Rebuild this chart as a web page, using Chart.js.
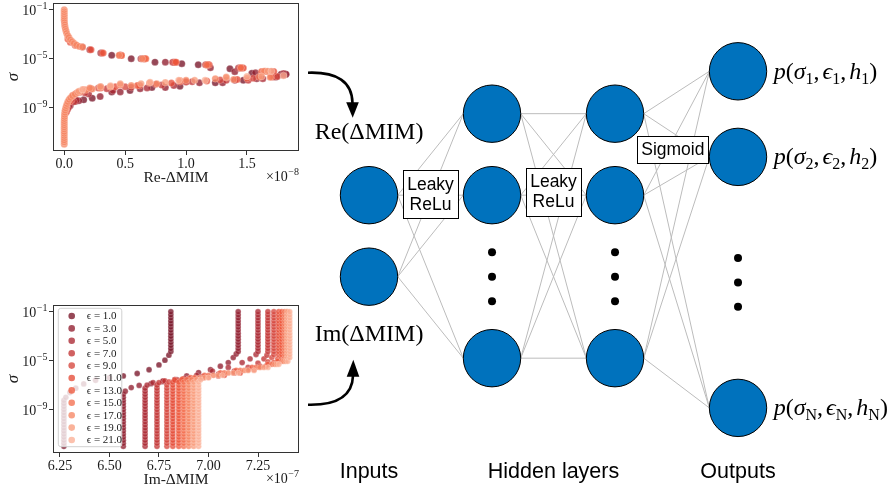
<!DOCTYPE html>
<html>
<head>
<meta charset="utf-8">
<script src="https://cdn.jsdelivr.net/npm/chart.js@4.4.1/dist/chart.umd.min.js"></script>
<style>
  html, body { margin: 0; padding: 0; background: #ffffff; }
  #wrap { position: relative; width: 893px; height: 488px; overflow: hidden; background: #ffffff; }
  canvas { position: absolute; }
  #net { left: 0; top: 0; }
  #re { left: 0; top: 0; }
  #im { left: 0; top: 290px; }
</style>
</head>
<body>
<div id="wrap">
  <canvas id="net" width="893" height="488"></canvas>
  <canvas id="re" width="310" height="190"></canvas>
  <canvas id="im" width="310" height="200"></canvas>
</div>
<script>
// ---------------------------------------------------------------
// Data
// ---------------------------------------------------------------
const EPSILONS = [1, 3, 5, 7, 9, 11, 13, 15, 17, 19, 21];

// sigma sampling used for the flat parts of the Im curves
const SIGMA_GRID = [1e-12, 1.78e-12, 3.16e-12, 5.62e-12, 1e-11, 1.78e-11, 3.16e-11, 5.62e-11,
  1e-10, 1.78e-10, 3.16e-10, 5.62e-10, 1e-9, 1.78e-9, 3.16e-9, 5.62e-9,
  1e-8, 1.78e-8, 3.16e-8, 5.62e-8, 1e-7, 1.78e-7, 3.16e-7, 5.62e-7,
  1e-6, 1.78e-6, 3.16e-6, 5.62e-6, 1e-5, 1.78e-5, 3.16e-5, 5.62e-5,
  1e-4, 1.78e-4, 3.16e-4, 5.62e-4, 1e-3, 1.78e-3, 3.16e-3, 5.62e-3,
  1e-2, 1.78e-2, 3.16e-2, 5.62e-2, 1e-1];

const SIGMA_TICKS = [1e-1, 1e-5, 1e-9];
const SIGMA_RANGE = [2.82e-13, 0.355];

// Im-ΔMIM (×1e-7): low-sigma plateau, high-sigma plateau and the bend between them
const IM_LOW_X = [6.27, 6.57, 6.68, 6.74, 6.79, 6.82, 6.85, 6.875, 6.90, 6.925, 6.95];
const IM_LOW_TOP = [5.62e-9, 1.78e-8, 5.62e-8, 1e-7, 1e-7, 1.78e-7, 1.78e-7, 1.78e-7, 1.78e-7, 1.78e-7, 1.78e-7];
const IM_HIGH_X = [6.81, 7.15, 7.25, 7.30, 7.33, 7.355, 7.37, 7.385, 7.395, 7.40, 7.41];
const IM_HIGH_BOTTOM = [5.62e-5, 5.62e-5, 5.62e-5, 5.62e-5, 3.16e-5, 3.16e-5, 1.78e-5, 1.78e-5, 1.78e-5, 1.78e-5, 1.78e-5];
const IM_BEND = [
  [[6.28,1e-8],[6.30,2.5e-8],[6.33,5.6e-8],[6.37,1.26e-7],[6.43,2.5e-7],[6.50,4e-7],[6.57,5.6e-7],[6.64,8.9e-7],[6.70,1.8e-6],[6.75,4.5e-6],[6.78,1.1e-5],[6.80,2.8e-5]],
  [[6.58,3.2e-8],[6.61,6.3e-8],[6.65,9.5e-8],[6.71,1.3e-7],[6.77,1.9e-7],[6.84,2.8e-7],[6.89,5.6e-7],[6.95,1.05e-6],[7.01,1.8e-6],[7.06,3.5e-6],[7.10,7e-6],[7.125,1.8e-5],[7.14,3.5e-5]],
  [[6.69,1e-7],[6.72,1.6e-7],[6.77,2.2e-7],[6.83,2.8e-7],[6.88,3.5e-7],[6.94,6.3e-7],[7.02,1.4e-6],[7.10,2.8e-6],[7.17,7e-6],[7.21,1.4e-5],[7.24,3.2e-5]],
  [[6.75,1.6e-7],[6.78,2.2e-7],[6.83,2.8e-7],[6.90,3.5e-7],[6.97,5e-7],[7.05,7.9e-7],[7.13,1.4e-6],[7.20,2.8e-6],[7.25,6.3e-6],[7.28,1.4e-5],[7.295,2.8e-5]],
  [[6.80,1.8e-7],[6.84,2.5e-7],[6.90,3.2e-7],[6.97,4e-7],[7.05,5.6e-7],[7.13,1e-6],[7.20,1.8e-6],[7.26,3.5e-6],[7.30,7.9e-6],[7.32,1.8e-5]],
  [[6.83,2.5e-7],[6.87,3.2e-7],[6.93,3.5e-7],[7.00,4.5e-7],[7.08,6.3e-7],[7.16,1e-6],[7.23,1.8e-6],[7.29,3.5e-6],[7.33,7e-6],[7.35,1.4e-5]],
  [[6.865,2.8e-7],[6.91,4e-7],[6.98,6.3e-7],[7.06,1e-6],[7.14,1.6e-6],[7.22,2.8e-6],[7.30,5e-6],[7.35,8.9e-6]],
  [[6.89,2.8e-7],[6.93,4e-7],[7.00,6.3e-7],[7.08,1e-6],[7.16,1.6e-6],[7.24,2.8e-6],[7.32,5e-6],[7.37,8.9e-6]],
  [[6.915,2.8e-7],[6.955,4e-7],[7.025,6.3e-7],[7.10,1e-6],[7.18,1.6e-6],[7.26,2.8e-6],[7.335,5e-6],[7.38,8.9e-6]],
  [[6.94,2.8e-7],[6.98,4e-7],[7.05,6.3e-7],[7.125,1e-6],[7.20,1.6e-6],[7.28,2.8e-6],[7.345,5e-6],[7.39,8.9e-6]],
  [[6.96,2.8e-7],[7.00,4e-7],[7.07,6.3e-7],[7.15,1e-6],[7.23,1.6e-6],[7.30,2.8e-6],[7.355,5e-6],[7.40,8.9e-6]]
];
const IM_TICKS = [6.25, 6.50, 6.75, 7.00, 7.25];
const IM_RANGE = [6.215, 7.457];

// Re-ΔMIM (×1e-8) against sigma, per epsilon
const RE_POINTS = [
  [[0.39,1.9e-5],[0.55,1e-5],[0.745,5.2e-6],[0.965,3.9e-6],[1.10,3.2e-6],[1.36,1.5e-6],[1.54,6.3e-7],[1.78,5.4e-7],
   [0.03,1e-9],[0.09,3.2e-9],[0.16,4.3e-9],[0.23,5.8e-9],[0.39,1.9e-8],[0.54,2.5e-8],[0.72,4.3e-8],[0.95,5.5e-8],[1.24,1.07e-7],[1.47,1.7e-7],[1.74,3.2e-7]],
  [[0.30,2.9e-5],[0.46,1.9e-5],[0.83,5.2e-6],[1.20,1.8e-6],[1.40,8.7e-7],[1.57,7e-7],[1.82,5.4e-7],
   [0.05,1.5e-9],[0.12,3.6e-9],[0.295,7.9e-9],[0.46,1.9e-8],[0.623,3.5e-8],[0.83,4.3e-8],[1.11,1.07e-7],[1.30,1.07e-7],[1.58,2.3e-7],[1.82,5.4e-7]],
  [[0.21,5.4e-5],[0.63,1e-5],[0.90,5.2e-6],[1.17,3.2e-6],[1.43,1.7e-6],[1.68,8.9e-7],[1.80,6e-7],
   [0.04,1.2e-9],[0.10,4e-9],[0.20,1.3e-8],[0.40,2.5e-8],[0.68,4e-8],[0.90,6.3e-8],[1.00,1.26e-7],[1.40,1.7e-7],[1.63,2.3e-7],[1.80,4.5e-7]],
  [[0.15,8.9e-5],[0.46,1.9e-5],[0.65,1e-5],[0.89,5.2e-6],[1.16,3.2e-6],[1.44,1.7e-6],[1.70,8.9e-7],
   [0.03,8e-10],[0.08,3e-9],[0.17,1.6e-8],[0.35,3.5e-8],[0.55,4.5e-8],[0.80,7e-8],[1.05,1.3e-7],[1.33,1.7e-7],[1.51,1.7e-7],[1.72,3.2e-7]],
  [[0.09,1.26e-4],[0.31,2.9e-5],[0.465,1.9e-5],[0.655,1e-5],[0.905,5.2e-6],[1.18,3.2e-6],[1.46,1.7e-6],[1.66,8.9e-7],
   [0.02,5e-10],[0.06,4e-9],[0.13,1.8e-8],[0.28,4e-8],[0.50,5e-8],[0.75,8e-8],[1.0,1.3e-7],[1.28,1.8e-7],[1.55,2.5e-7],[1.75,3.5e-7]],
  [[0.05,2.2e-4],[0.22,5.4e-5],[0.47,1.9e-5],[0.665,1e-5],[0.92,5.2e-6],[1.19,3.2e-6],[1.47,1.7e-6],[1.72,9e-7],
   [0.015,4e-10],[0.045,3e-9],[0.10,1.5e-8],[0.22,3.5e-8],[0.42,5e-8],[0.62,6.3e-8],[0.88,1e-7],[1.17,1.5e-7],[1.42,2e-7],[1.70,3.2e-7]],
  [[0.03,4e-4],[0.32,2.9e-5],[0.455,1.9e-5],[0.66,1e-5],[0.915,5.2e-6],[1.18,3.2e-6],[1.45,1.7e-6],[1.62,9e-7],
   [0.01,6e-10],[0.07,9e-9],[0.30,4e-8],[0.38,5e-8],[0.60,6.5e-8],[0.95,1.3e-7],[1.5,2.5e-7]],
  [[0.1,1.2e-4],[0.47,1.8e-5],[0.67,1e-5],[1.17,3.1e-6],[1.45,1.8e-6],[1.65,9.5e-7],
   [0.02,1e-9],[0.07,1e-8],[0.16,3e-8],[0.30,5e-8],[0.46,7e-8],[0.70,1e-7],[0.95,1.6e-7],[1.33,2.8e-7],[1.60,3.2e-7]],
  [[0,1e-1],[0,7e-2],[0,5e-2],[0,3.5e-2],[0,2.5e-2],[0,1.8e-2],[0,1.3e-2],[0.002,9e-3],[0.004,6e-3],[0.006,4e-3],
   [0.01,2.7e-3],[0.015,1.8e-3],[0.02,1.2e-3],[0.028,8e-4],[0.038,5.5e-4],[0.05,3.5e-4],[0.065,2.5e-4],[0.08,1.8e-4],
   [0.1,1.3e-4],[0.125,1e-4],[0.15,9e-5],[0.45,1.9e-5],[0.64,1e-5],[1.64,9.5e-7],
   [0,1e-12],[0,1.5e-12],[0,2.2e-12],[0,3.3e-12],[0,5e-12],[0,7.5e-12],[0,1.1e-11],[0,1.7e-11],[0,2.5e-11],[0,3.7e-11],
   [0,5.5e-11],[0,8e-11],[0.001,1.2e-10],[0.002,1.8e-10],[0.003,2.7e-10],[0.005,4e-10],[0.008,6e-10],[0.012,9e-10],
   [0.017,1.35e-9],[0.023,2e-9],[0.03,3e-9],[0.04,4.5e-9],[0.052,6.5e-9],[0.068,9e-9],[0.088,1.25e-8],[0.11,1.7e-8],
   [0.14,2.2e-8],[0.18,2.8e-8],[0.23,3.3e-8],
   [0.21,4e-8],[0.377,5e-8],[0.55,6.3e-8],[0.76,9e-8],[1.0,1.7e-7],[1.24,2.3e-7],[1.39,2e-7],[1.69,3e-7]],
  [[1.67,9.5e-7],
   [0.12,2.2e-8],[0.295,5e-8],[0.46,9e-8],[0.63,9e-8],[0.83,1.1e-7],[1.07,1.7e-7],[1.33,3.2e-7],[1.62,3.5e-7]],
  [[1.70,9.5e-7],
   [0.15,3e-8],[0.38,6e-8],[0.705,1.2e-7],[0.94,1.7e-7],[1.156,1.7e-7],[1.5,3.5e-7],[1.8,4e-7]]
];
const RE_TICKS = [0.0, 0.5, 1.0, 1.5];
const RE_RANGE = [-0.092, 1.927];

// Network diagram: vertical slot of every node, per layer
const INPUT_SLOTS = [1, 2];
const HIDDEN_SLOTS = [0, 1, 3];
const OUTPUT_SLOTS = [-0.52, 0.53, 3.61];
const HIDDEN_GAP_SLOTS = [1.7, 2.0, 2.3];
const OUTPUT_GAP_SLOTS = [1.77, 2.07, 2.37];
const LAYER_SLOTS = [INPUT_SLOTS, HIDDEN_SLOTS, HIDDEN_SLOTS, OUTPUT_SLOTS];
const LAYER_TITLES = [['Inputs', 0], ['Hidden layers', 1.5], ['Outputs', 3]];
const INPUT_LABELS = ['Re(ΔMIM)', 'Im(ΔMIM)'];
const OUTPUT_INDEX = ['1', '2', 'N'];
const ACTIVATIONS = [
  { lines: ['Leaky', 'ReLu'], layer: 0.5, slot: 0.99 },
  { lines: ['Leaky', 'ReLu'], layer: 1.5, slot: 0.96 },
  { lines: ['Sigmoid'], layer: 2.47, slot: 0.445 }
];

// ---------------------------------------------------------------
// Styles
// ---------------------------------------------------------------
const SERIF = "'Liberation Serif', 'DejaVu Serif', serif";
const SANS = "'Liberation Sans', Arial, sans-serif";
const AXIS_COLOR = '#333333';
const TEXT_COLOR = '#1a1a1a';
const SERIES_RGB = [
  [120, 20, 40], [145, 30, 46], [170, 40, 50], [195, 52, 52], [214, 70, 62], [230, 75, 55],
  [238, 88, 60], [244, 112, 80], [246, 134, 100], [249, 156, 124], [251, 176, 150]
];
const POINT_ALPHA = 0.78;
const NODE_BLUE = '#0072BD';
const NODE_R = 28.7;
const EDGE_COLOR = '#bcbcbc';

const rgba = (c, a) => `rgba(${c[0]},${c[1]},${c[2]},${a})`;

// ---------------------------------------------------------------
// Scatter panels
// ---------------------------------------------------------------
function drawPow(ctx, xRight, yBase, exp, big, small, prefix) {
  const sup = '\u2212' + Math.abs(exp);
  ctx.font = `${small}px ${SERIF}`;
  const ws = ctx.measureText(sup).width;
  ctx.font = `${big}px ${SERIF}`;
  const base = (prefix || '') + '10';
  const wb = ctx.measureText(base).width;
  ctx.textAlign = 'left';
  ctx.textBaseline = 'alphabetic';
  ctx.fillText(base, xRight - ws - wb - 0.5, yBase);
  ctx.font = `${small}px ${SERIF}`;
  ctx.fillText(sup, xRight - ws, yBase - 6);
}

const axesDecor = {
  id: 'axesDecor',
  afterDatasetsDraw(chart, args, opts) {
    const { ctx, chartArea: a, scales } = chart;
    ctx.save();
    ctx.fillStyle = TEXT_COLOR;

    if (opts.legend) {
      const bx = a.left + 5.3, by = a.top + 3.3, bw = 63.5, bh = 138.4, r = 2.5;
      ctx.beginPath();
      ctx.moveTo(bx + r, by);
      ctx.arcTo(bx + bw, by, bx + bw, by + bh, r);
      ctx.arcTo(bx + bw, by + bh, bx, by + bh, r);
      ctx.arcTo(bx, by + bh, bx, by, r);
      ctx.arcTo(bx, by, bx + bw, by, r);
      ctx.closePath();
      ctx.fillStyle = 'rgba(255,255,255,0.8)';
      ctx.fill();
      ctx.strokeStyle = '#d0d0d0';
      ctx.lineWidth = 1;
      ctx.stroke();
      chart.data.datasets.forEach((ds, i) => {
        const cy = by + 7.7 + i * 12.4;
        ctx.beginPath();
        ctx.arc(bx + 13.4, cy, 3.3, 0, Math.PI * 2);
        ctx.fillStyle = ds.backgroundColor;
        ctx.fill();
        ctx.fillStyle = TEXT_COLOR;
        ctx.font = `11px ${SERIF}`;
        ctx.textAlign = 'left';
        ctx.textBaseline = 'middle';
        ctx.fillText(ds.label, bx + 28.4, cy + 0.5);
      });
    }

    // full frame round the plotting area
    ctx.strokeStyle = AXIS_COLOR;
    ctx.lineWidth = 1;
    ctx.strokeRect(Math.floor(a.left) + 0.5, Math.floor(a.top) + 0.5,
                   Math.round(a.right - a.left) - 1, Math.round(a.bottom - a.top) - 1);

    // log tick labels with raised exponents
    ctx.fillStyle = TEXT_COLOR;
    SIGMA_TICKS.forEach(v => {
      const y = scales.y.getPixelForValue(v);
      drawPow(ctx, a.left - 5.5, y + 5.5, Math.round(Math.log10(v)), 14, 10);
    });

    // scale factor of the x axis
    drawPow(ctx, a.right, a.bottom + 30, opts.offsetExp, 14, 10, '\u00d7');
    ctx.restore();
  }
};

function scatterChart(id, datasets, o) {
  return new Chart(document.getElementById(id), {
    type: 'scatter',
    data: { datasets },
    options: {
      responsive: false,
      animation: false,
      devicePixelRatio: 1,
      events: [],
      layout: { autoPadding: false, padding: { left: 0, top: o.top, right: 11, bottom: 0 } },
      scales: {
        x: {
          type: 'linear', min: o.range[0], max: o.range[1],
          afterBuildTicks: s => { s.ticks = o.ticks.map(v => ({ value: v })); },
          afterFit: s => { s.height = o.xHeight; },
          ticks: {
            callback: v => v.toFixed(o.decimals),
            font: { family: SERIF, size: 14 }, color: TEXT_COLOR,
            padding: 1, maxRotation: 0, autoSkip: false
          },
          grid: { drawOnChartArea: false, drawTicks: true, tickLength: 4, color: AXIS_COLOR, tickColor: AXIS_COLOR },
          border: { display: false },
          title: { display: true, text: o.xTitle, font: { family: SERIF, size: 15.5 }, color: TEXT_COLOR,
                   padding: { top: 0, bottom: o.titlePad } }
        },
        y: {
          type: 'logarithmic', min: SIGMA_RANGE[0], max: SIGMA_RANGE[1],
          afterBuildTicks: s => { s.ticks = SIGMA_TICKS.map(v => ({ value: v })); },
          afterFit: s => { s.width = 53; },
          ticks: { display: false },
          grid: { drawOnChartArea: false, drawTicks: true, tickLength: 4, color: AXIS_COLOR, tickColor: AXIS_COLOR },
          border: { display: false },
          title: { display: true, text: 'σ', font: { family: SERIF, size: 17, style: 'italic' }, color: TEXT_COLOR,
                   padding: { top: 3, bottom: 0 } }
        }
      },
      plugins: {
        legend: { display: false },
        tooltip: { enabled: false },
        axesDecor: { legend: o.legend, offsetExp: o.offsetExp }
      }
    },
    plugins: [axesDecor]
  });
}

function pointStyle(i, r) {
  return {
    backgroundColor: rgba(SERIES_RGB[i], POINT_ALPHA),
    borderColor: 'rgba(255,255,255,0.45)',
    borderWidth: 0.5,
    pointRadius: r,
    order: EPSILONS.length - i
  };
}

const reDatasets = EPSILONS.map((eps, i) => Object.assign({
  label: `ϵ = ${eps.toFixed(1)}`,
  data: RE_POINTS[i].map(([x, s]) => ({ x, y: s }))
}, pointStyle(i, 3.5)));

const imDatasets = EPSILONS.map((eps, i) => {
  const pts = [];
  SIGMA_GRID.forEach(s => { if (s <= IM_LOW_TOP[i] * 1.001) pts.push({ x: IM_LOW_X[i], y: s }); });
  IM_BEND[i].forEach(([x, s]) => pts.push({ x, y: s }));
  SIGMA_GRID.forEach(s => { if (s >= IM_HIGH_BOTTOM[i] * 0.999) pts.push({ x: IM_HIGH_X[i], y: s }); });
  return Object.assign({ label: `ϵ = ${eps.toFixed(1)}`, data: pts }, pointStyle(i, 2.9));
});

scatterChart('re', reDatasets, {
  top: 3, xHeight: 39, range: RE_RANGE, ticks: RE_TICKS, decimals: 1,
  xTitle: 'Re-ΔMIM', titlePad: 3, legend: false, offsetExp: -8
});
scatterChart('im', imDatasets, {
  top: 15, xHeight: 37, range: IM_RANGE, ticks: IM_TICKS, decimals: 2,
  xTitle: 'Im-ΔMIM', titlePad: 1, legend: true, offsetExp: -7
});

// ---------------------------------------------------------------
// Network diagram
// ---------------------------------------------------------------
function drawOutputLabel(ctx, x, y, idx) {
  const big = 24, small = 16;
  const parts = [
    ['p', 'i'], ['(', 'r'], ['σ', 'i'], [idx, 's'], [',', 'r'], [3, 'g'],
    ['ϵ', 'i'], [idx, 's'], [',', 'r'], [3, 'g'], ['h', 'i'], [idx, 's'], [')', 'r']
  ];
  ctx.textAlign = 'left';
  ctx.textBaseline = 'alphabetic';
  let cx = x;
  parts.forEach(([t, k]) => {
    if (k === 'g') { cx += t; return; }
    if (k === 's') {
      ctx.font = `${small}px ${SERIF}`;
      ctx.fillText(t, cx, y + 5);
    } else {
      ctx.font = `${k === 'i' ? 'italic ' : ''}${big}px ${SERIF}`;
      ctx.fillText(t, cx, y);
    }
    cx += ctx.measureText(t).width;
  });
}

function drawArrow(ctx, p0, c, p1, tip) {
  ctx.beginPath();
  ctx.moveTo(p0[0], p0[1]);
  ctx.quadraticCurveTo(c[0], c[1], p1[0], p1[1]);
  ctx.lineWidth = 2.6;
  ctx.strokeStyle = '#000';
  ctx.stroke();
  const dir = Math.sign(tip[1] - p1[1]);
  ctx.beginPath();
  ctx.moveTo(tip[0], tip[1]);
  ctx.lineTo(p1[0] - 6.3, p1[1] - dir * 1);
  ctx.lineTo(p1[0] + 6.3, p1[1] - dir * 1);
  ctx.closePath();
  ctx.fillStyle = '#000';
  ctx.fill();
}

const networkDecor = {
  id: 'networkDecor',
  beforeDatasetsDraw(chart) {
    const { ctx, scales: { x, y } } = chart;
    ctx.save();
    ctx.strokeStyle = EDGE_COLOR;
    ctx.lineWidth = 1;
    for (let l = 0; l < LAYER_SLOTS.length - 1; l++) {
      const x0 = x.getPixelForValue(l) + NODE_R;
      const x1 = x.getPixelForValue(l + 1) - NODE_R;
      LAYER_SLOTS[l].forEach(a => LAYER_SLOTS[l + 1].forEach(b => {
        ctx.beginPath();
        ctx.moveTo(x0, y.getPixelForValue(a));
        ctx.lineTo(x1, y.getPixelForValue(b));
        ctx.stroke();
      }));
    }
    ctx.restore();
  },
  afterDatasetsDraw(chart) {
    const { ctx, chartArea: area, scales: { x, y } } = chart;
    ctx.save();

    // activation boxes
    ACTIVATIONS.forEach(act => {
      const cx = x.getPixelForValue(act.layer), cy = y.getPixelForValue(act.slot);
      ctx.font = `17.5px ${SANS}`;
      const w = Math.max(...act.lines.map(t => ctx.measureText(t).width)) + 8;
      const lh = 20;
      const h = act.lines.length * lh + (act.lines.length > 1 ? 8 : 7);
      ctx.fillStyle = '#fff';
      ctx.fillRect(cx - w / 2, cy - h / 2, w, h);
      ctx.strokeStyle = '#000';
      ctx.lineWidth = 1;
      ctx.strokeRect(Math.round(cx - w / 2) + 0.5, Math.round(cy - h / 2) + 0.5, Math.round(w), Math.round(h));
      ctx.fillStyle = '#000';
      ctx.textAlign = 'center';
      ctx.textBaseline = 'middle';
      act.lines.forEach((t, k) => {
        ctx.fillText(t, cx, cy + (k - (act.lines.length - 1) / 2) * lh + 0.5);
      });
    });

    // input labels and arrows
    const ix = x.getPixelForValue(0);
    const iy0 = y.getPixelForValue(INPUT_SLOTS[0]);
    const iy1 = y.getPixelForValue(INPUT_SLOTS[1]);
    ctx.fillStyle = '#000';
    ctx.font = `24px ${SERIF}`;
    ctx.textAlign = 'center';
    ctx.textBaseline = 'middle';
    ctx.fillText(INPUT_LABELS[0], ix, iy0 - 62);
    ctx.fillText(INPUT_LABELS[1], ix, iy1 + 58);

    drawArrow(ctx, [ix - 61, iy0 - 122.5], [ix - 17, iy0 - 124], [ix - 16.5, iy0 - 92], [ix - 16.3, iy0 - 77.5]);
    drawArrow(ctx, [ix - 61, iy1 + 128], [ix - 17, iy1 + 129], [ix - 16, iy1 + 99], [ix - 15.7, iy1 + 83]);

    // output labels
    const ox = x.getPixelForValue(3);
    ctx.fillStyle = '#000';
    OUTPUT_SLOTS.forEach((s, k) => {
      drawOutputLabel(ctx, ox + NODE_R + 7, y.getPixelForValue(s) + 7.5, OUTPUT_INDEX[k]);
    });

    // layer titles
    ctx.font = `21.5px ${SANS}`;
    ctx.textAlign = 'center';
    ctx.textBaseline = 'middle';
    LAYER_TITLES.forEach(([t, l]) => ctx.fillText(t, x.getPixelForValue(l), area.bottom - 16));
    ctx.restore();
  }
};

const nodePoints = LAYER_SLOTS.flatMap((slots, l) => slots.map(s => ({ x: l, y: s })));
const gapPoints = [
  ...HIDDEN_GAP_SLOTS.map(s => ({ x: 1, y: s })),
  ...HIDDEN_GAP_SLOTS.map(s => ({ x: 2, y: s })),
  ...OUTPUT_GAP_SLOTS.map(s => ({ x: 3, y: s }))
];

new Chart(document.getElementById('net'), {
  type: 'scatter',
  data: {
    datasets: [
      { label: 'nodes', data: nodePoints, pointRadius: NODE_R, backgroundColor: NODE_BLUE,
        borderColor: '#000', borderWidth: 1 },
      { label: 'gap', data: gapPoints, pointRadius: 4, backgroundColor: '#000', borderWidth: 0 }
    ]
  },
  options: {
    responsive: false,
    animation: false,
    devicePixelRatio: 1,
    events: [],
    layout: { autoPadding: false, padding: 0 },
    scales: {
      x: { type: 'linear', display: false, min: -3.0, max: 4.26 },
      y: { type: 'linear', display: false, reverse: true, min: -1.395, max: 4.593 }
    },
    plugins: { legend: { display: false }, tooltip: { enabled: false } }
  },
  plugins: [networkDecor]
});
</script>
</body>
</html>
